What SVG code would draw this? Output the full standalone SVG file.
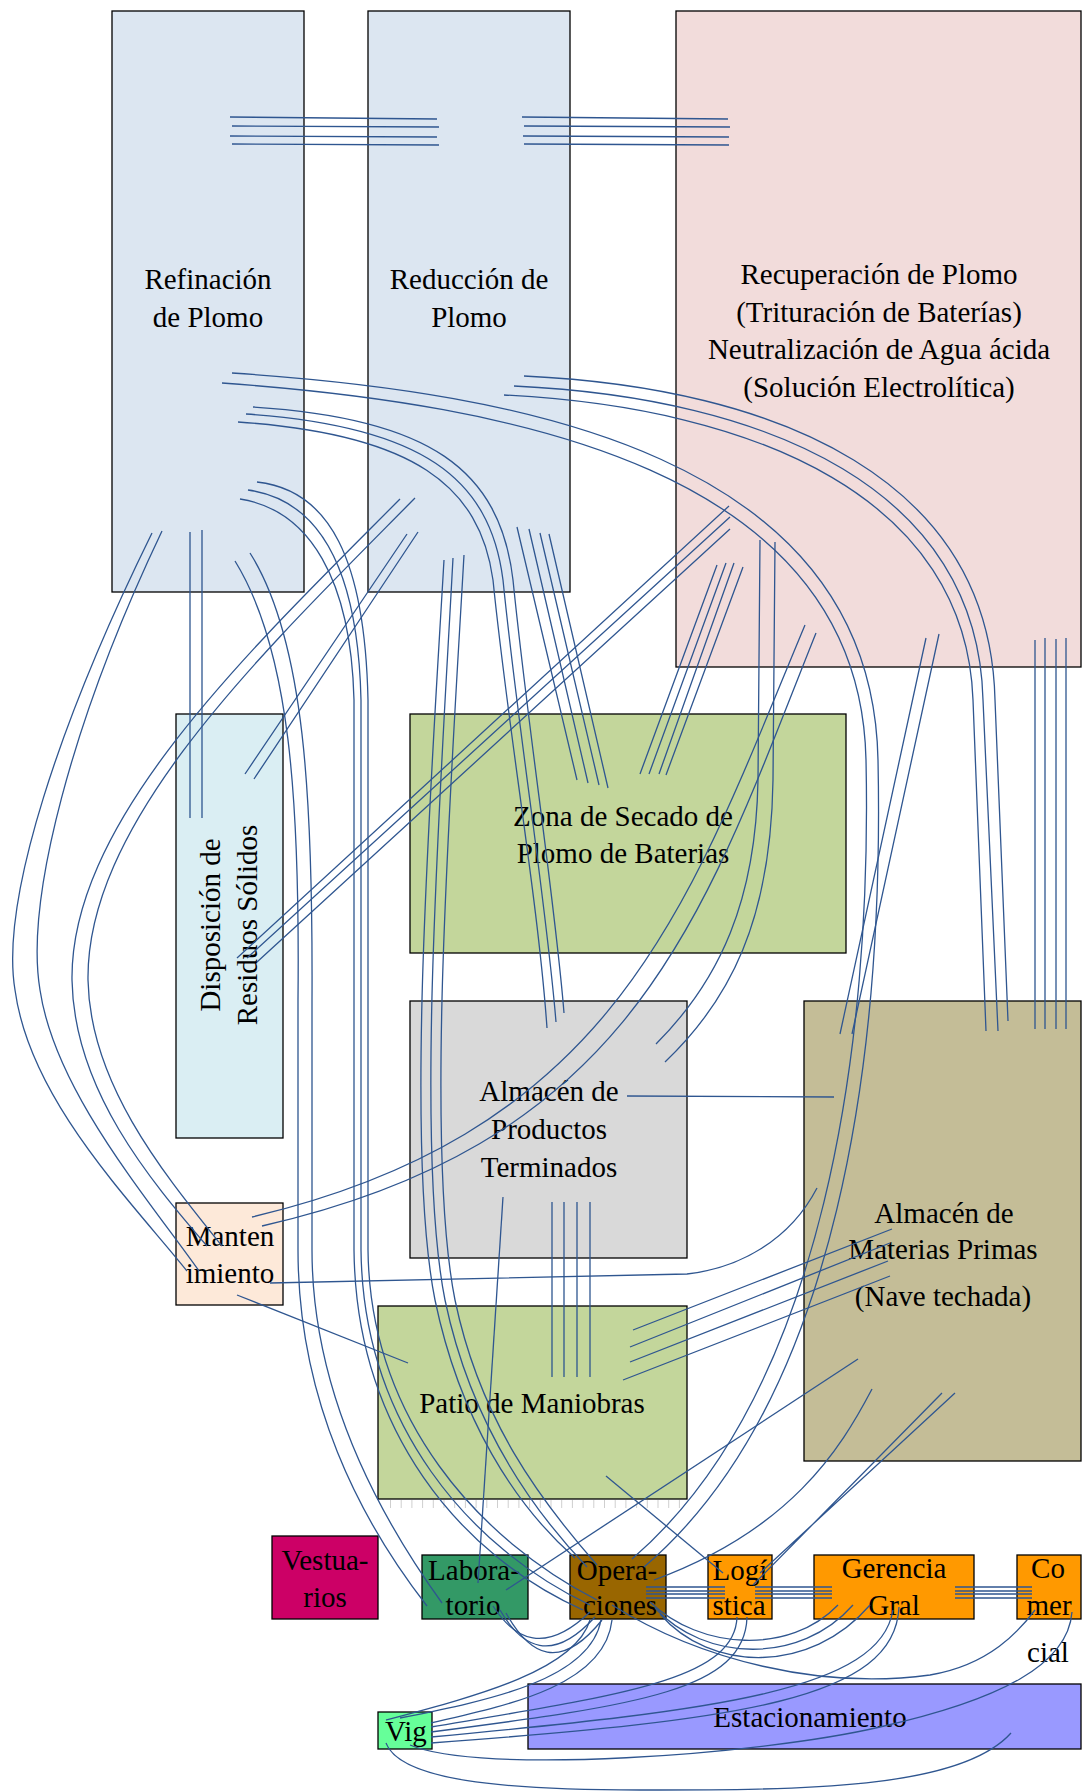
<svg xmlns="http://www.w3.org/2000/svg" width="1084" height="1791" viewBox="0 0 1084 1791">
<style>
.box{stroke:#000;stroke-width:1.3}
text{font-family:"Liberation Serif","Times New Roman",serif;font-size:29px;fill:#000;text-anchor:middle}
#connectors path{fill:none;stroke:#2f5690;stroke-width:1.3}
</style>
<rect width="1084" height="1791" fill="#fff"/>
<g id="refinacion"><rect class="box" x="112" y="11" width="192" height="581" fill="#dce6f1"/><text x="208" y="289">Refinación</text><text x="208" y="327">de Plomo</text></g>
<g id="reduccion"><rect class="box" x="368" y="11" width="202" height="581" fill="#dce6f1"/><text x="469" y="289">Reducción de</text><text x="469" y="327">Plomo</text></g>
<g id="recuperacion"><rect class="box" x="676" y="11" width="405" height="656" fill="#f2dcdb"/><text x="879" y="284">Recuperación de Plomo</text><text x="879" y="322">(Trituración de Baterías)</text><text x="879" y="359">Neutralización de Agua ácida</text><text x="879" y="397">(Solución Electrolítica)</text></g>
<g id="disposicion"><rect class="box" x="176" y="714" width="107" height="424" fill="#daeef3"/><text transform="translate(220,925) rotate(-90)">Disposición de</text><text transform="translate(257,925) rotate(-90)">Residuos Sólidos</text></g>
<g id="zona"><rect class="box" x="410" y="714" width="436" height="239" fill="#c3d69b"/><text x="623" y="826">Zona de Secado de</text><text x="623" y="863">Plomo de Baterias</text></g>
<g id="almacen-pt"><rect class="box" x="410" y="1001" width="277" height="257" fill="#d9d9d9"/><text x="549" y="1101">Almacén de</text><text x="549" y="1139">Productos</text><text x="549" y="1177">Terminados</text></g>
<g id="almacen-mp"><rect class="box" x="804" y="1001" width="277" height="460" fill="#c4bd97"/><text x="944" y="1223">Almacén de</text><text x="943" y="1259">Materias Primas</text><text x="943" y="1306">(Nave techada)</text></g>
<g id="mantenimiento"><rect class="box" x="176" y="1203" width="107" height="102" fill="#fde9d9"/><text x="230" y="1246">Manten</text><text x="230" y="1283">imiento</text></g>
<g id="patio"><rect class="box" x="378" y="1306" width="309" height="193" fill="#c3d69b"/><line x1="390" y1="1504" x2="680" y2="1504" stroke="#cfcfcf" stroke-width="8" stroke-dasharray="1 9.7"/><text x="532" y="1413">Patio de Maniobras</text></g>
<g id="vestuarios"><rect class="box" x="272" y="1536" width="106" height="83" fill="#cc0066"/><text x="325" y="1570">Vestua-</text><text x="325" y="1607">rios</text></g>
<g id="laboratorio"><rect class="box" x="422" y="1555" width="106" height="64" fill="#339966"/><text x="474" y="1580">Labora-</text><text x="473" y="1615">torio</text></g>
<g id="operaciones"><rect class="box" x="570" y="1555" width="96" height="64" fill="#996600"/><text x="617" y="1580">Opera-</text><text x="620" y="1615">ciones</text></g>
<g id="logistica"><rect class="box" x="708" y="1555" width="64" height="64" fill="#ff9900"/><text x="740" y="1580">Logí</text><text x="739" y="1615">stica</text></g>
<g id="gerencia"><rect class="box" x="814" y="1555" width="160" height="64" fill="#ff9900"/><text x="894" y="1578">Gerencia</text><text x="894" y="1615">Gral</text></g>
<g id="comercial"><rect class="box" x="1017" y="1555" width="64" height="64" fill="#ff9900"/><text x="1048" y="1578">Co</text><text x="1049" y="1615">mer</text><text x="1048" y="1662">cial</text></g>
<g id="estacionamiento"><rect class="box" x="528" y="1684" width="553" height="65" fill="#9999ff"/><text x="810" y="1727">Estacionamiento</text></g>
<g id="vigilancia"><rect class="box" x="378" y="1712" width="54" height="37" fill="#66ff99"/><text x="406" y="1741">Vig</text></g>
<g id="connectors">
<path d="M230,117 L437,119 M232,126 L439,127 M230,136 L437,137 M232,144 L439,145"/>
<path d="M522,117 L728,119 M524,126 L730,127 M523,136 L729,137 M524,144 L729,145"/>
<path d="M524,376 C780,388 990,480 995,700 L1008,1021"/>
<path d="M514,386 C770,398 978,490 983,700 L998,1031"/>
<path d="M504,395 C760,408 966,500 973,700 L986,1031"/>
<path d="M232,373 C520,392 872,455 878,760 C884,1050 840,1400 644,1567"/>
<path d="M222,383 C510,404 860,468 866,760 C872,1040 826,1392 632,1559"/>
<path d="M253,407 C430,418 500,470 513,580 C528,730 555,900 564,1013"/>
<path d="M246,414 C422,426 490,478 503,580 C518,730 546,900 556,1022"/>
<path d="M238,422 C414,434 480,486 493,580 C508,730 538,900 547,1028"/>
<path d="M517,527 L577,780 M529,529 L588,783 M540,533 L599,785 M549,534 L608,788"/>
<path d="M717,565 L640,774 M726,563 L649,774 M734,563 L659,774 M743,567 L666,775"/>
<path d="M407,534 L245,774 M418,532 L254,779"/>
<path d="M729,506 L237,958 M730,517 L247,958 M730,529 L257,962"/>
<path d="M190,532 L190,818 M202,530 L202,818"/>
<path d="M760,540 L758,780 C756,900 720,980 656,1044"/>
<path d="M775,542 L773,780 C771,920 730,1000 665,1062"/>
<path d="M805,625 C690,900 620,1130 252,1217"/>
<path d="M816,633 C705,910 640,1140 262,1226"/>
<path d="M926,638 L840,1034 M939,634 L852,1034"/>
<path d="M1035,640 L1035,1029 M1045,638 L1045,1029 M1056,639 L1056,1029 M1066,638 L1066,1029"/>
<path d="M627,1096 L834,1097"/>
<path d="M270,1283 L687,1274 C740,1268 790,1240 817,1188"/>
<path d="M237,1295 L408,1363"/>
<path d="M552,1202 L552,1377 M564,1202 L564,1377 M577,1202 L577,1377 M590,1202 L590,1377"/>
<path d="M503,1197 L478,1583"/>
<path d="M892,1229 L633,1330 M890,1243 L630,1347 M888,1261 L630,1362 M890,1276 L623,1380"/>
<path d="M858,1359 L506,1590"/>
<path d="M606,1476 L723,1573"/>
<path d="M872,1389 C840,1450 790,1530 654,1580"/>
<path d="M942,1393 L753,1585 M955,1393 L760,1573"/>
<path d="M152,533 C60,720 0,900 15,990 C30,1100 130,1200 187,1271"/>
<path d="M162,531 C72,720 25,900 40,990 C55,1090 145,1195 199,1271"/>
<path d="M400,499 C250,650 70,820 72,980 C74,1090 150,1180 207,1246"/>
<path d="M415,498 C265,650 86,820 88,980 C90,1085 165,1175 222,1246"/>
<path d="M235,561 C290,650 300,800 298,1000 L298,1250 C298,1400 360,1520 427,1606"/>
<path d="M250,553 C305,640 313,800 312,1000 L312,1250 C312,1390 375,1510 442,1603"/>
<path d="M257,482 C330,490 365,560 368,700 L368,1250 C370,1420 480,1540 597,1600"/>
<path d="M248,490 C320,500 358,570 361,700 L361,1250 C363,1425 470,1548 590,1605"/>
<path d="M240,499 C310,510 351,580 354,700 L354,1250 C356,1430 460,1555 583,1610"/>
<path d="M464,555 C450,800 425,1150 455,1300 C480,1420 540,1500 597,1565"/>
<path d="M453,558 C440,800 415,1150 445,1300 C470,1420 528,1505 587,1567"/>
<path d="M444,560 C430,800 405,1150 435,1300 C460,1420 515,1505 575,1558"/>
<path d="M646,1587 L725,1587 M646,1591 L725,1591 M646,1594 L725,1594 M646,1598 L725,1598"/>
<path d="M755,1587 L832,1587 M755,1591 L832,1591 M755,1594 L832,1594 M755,1598 L832,1598"/>
<path d="M955,1587 L1032,1587 M955,1591 L1032,1591 M955,1594 L1032,1594 M955,1598 L1032,1598"/>
<path d="M493,1606 C515,1640 545,1655 590,1612"/>
<path d="M500,1610 C522,1648 552,1664 595,1617"/>
<path d="M506,1613 C530,1656 560,1672 602,1620"/>
<path d="M590,1620 C575,1670 480,1695 386,1720"/>
<path d="M601,1620 C590,1680 490,1700 400,1718"/>
<path d="M612,1620 C605,1685 510,1705 431,1723"/>
<path d="M737,1617 C735,1680 620,1695 431,1727"/>
<path d="M747,1617 C745,1690 640,1705 431,1732"/>
<path d="M893,1610 C880,1690 720,1710 431,1737"/>
<path d="M899,1607 C895,1700 740,1720 431,1743"/>
<path d="M650,1602 C700,1650 790,1655 838,1605"/>
<path d="M655,1608 C705,1662 800,1665 853,1605"/>
<path d="M660,1614 C710,1672 810,1675 870,1605"/>
<path d="M612,1605 C700,1660 820,1690 930,1675 C990,1665 1020,1630 1035,1610"/>
<path d="M1072,1612 C1068,1665 1000,1700 880,1727 C760,1755 480,1775 410,1745"/>
<path d="M1011,1733 C960,1790 800,1790 640,1790 C500,1790 400,1780 386,1743"/>
</g>
</svg>
